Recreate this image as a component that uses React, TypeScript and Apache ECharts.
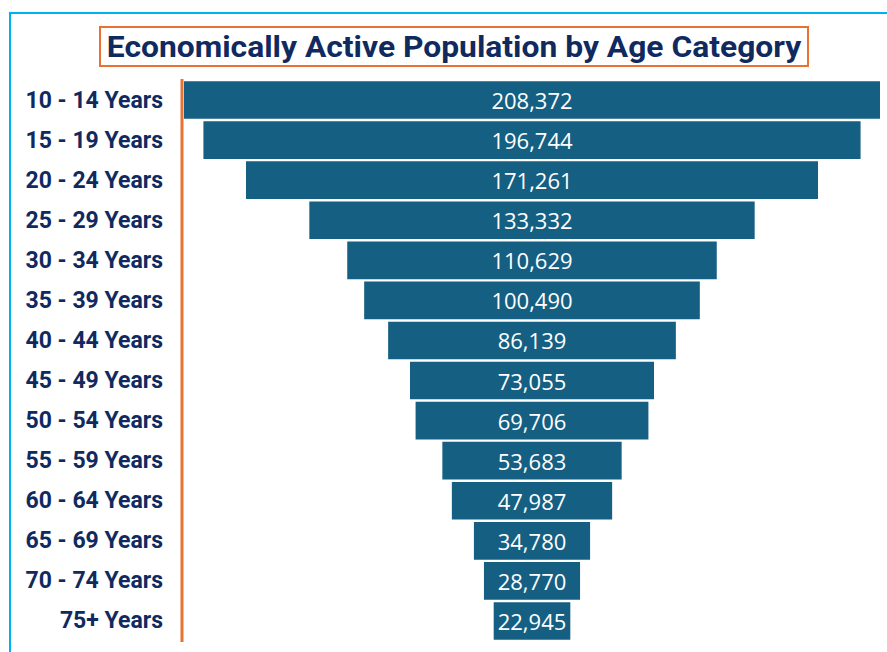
import React, { useEffect, useRef } from "react";
import * as echarts from "echarts";

const categories = [
  "10 - 14 Years", "15 - 19 Years", "20 - 24 Years", "25 - 29 Years", "30 - 34 Years",
  "35 - 39 Years", "40 - 44 Years", "45 - 49 Years", "50 - 54 Years", "55 - 59 Years",
  "60 - 64 Years", "65 - 69 Years", "70 - 74 Years", "75+ Years",
];
const values = [208372, 196744, 171261, 133332, 110629, 100490, 86139, 73055, 69706, 53683, 47987, 34780, 28770, 22945];
const titleText = "Economically Active Population by Age Category";

export default function App() {
  const ref = useRef<HTMLDivElement>(null);
  useEffect(() => {
    if (!ref.current) return;
    const chart = echarts.init(ref.current, null, { renderer: "svg" });
    const maxV = Math.max(...values);
    const pads = values.map((v) => (maxV - v) / 2);
    chart.setOption({
      animation: false,
      backgroundColor: "#ffffff",
      grid: { left: 184, right: 7, top: 80, bottom: 11, containLabel: false },
      xAxis: { type: "value", min: 0, max: maxV, show: false },
      yAxis: {
        type: "category",
        data: categories,
        inverse: true,
        axisLine: { show: false },
        axisTick: { show: false },
        axisLabel: {
          margin: 21,
          fontSize: 23,
          fontWeight: "bold",
          color: "#102A60",
          fontFamily: "Roboto",
        },
      },
      series: [
        {
          type: "bar",
          stack: "f",
          data: pads,
          itemStyle: { color: "transparent" },
          silent: true,
          barCategoryGap: "6%",
        },
        {
          type: "bar",
          stack: "f",
          data: values,
          barCategoryGap: "6%",
          itemStyle: { color: "#156082" },
          label: {
            show: true,
            position: "inside",
            color: "#ffffff",
            fontSize: 22,
            fontFamily: "Open Sans",
            formatter: (p: any) => Number(p.value).toLocaleString("en-US"),
          },
        },
      ],
      graphic: [
        { type: "line", shape: { x1: 9, y1: 13, x2: 887, y2: 13 }, style: { stroke: "#00B0F0", lineWidth: 2 } },
        { type: "line", shape: { x1: 10, y1: 12, x2: 10, y2: 652 }, style: { stroke: "#00B0F0", lineWidth: 2 } },
        { type: "line", shape: { x1: 182, y1: 79, x2: 182, y2: 642 }, style: { stroke: "#E97132", lineWidth: 3 } },
        { type: "rect", shape: { x: 100, y: 27, width: 708, height: 39 }, style: { fill: "none", stroke: "#E97132", lineWidth: 2 } },
        {
          type: "text",
          x: 454,
          y: 47,
          scaleX: 1.06,
          style: {
            text: titleText,
            fontSize: 30,
            fontWeight: "bold",
            fontFamily: "Roboto",
            fill: "#102A60",
            textAlign: "center",
            textVerticalAlign: "middle",
          },
        },
      ],
    });
    return () => chart.dispose();
  }, []);
  return <div ref={ref} style={{ position: "fixed", left: 0, top: 0, width: 887, height: 652 }} />;
}
